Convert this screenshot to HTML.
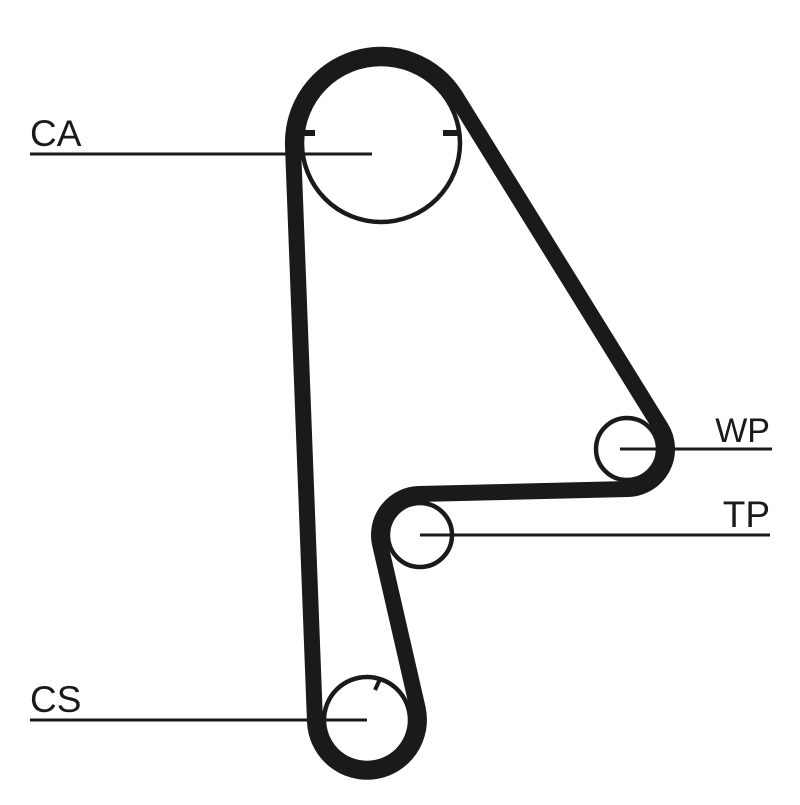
<!DOCTYPE html>
<html><head><style>html,body{margin:0;padding:0;background:#fff}</style></head>
<body>
<svg width="800" height="800" viewBox="0 0 800 800" xmlns="http://www.w3.org/2000/svg">
<g fill="none" stroke="#1a1a1a">
<path d="M 293,146.3 A 88 88 0 0 1 455.6,96.2 L 660.9,427.7 A 40 40 0 0 1 628,489 L 419,494 A 41 41 0 0 0 380,544 L 417.7,708.4 A 52 52 0 1 1 315,722 Z" stroke-width="16" stroke-linejoin="round"/>
<circle cx="381" cy="143" r="79" stroke-width="4.5"/>
<circle cx="627" cy="449" r="31" stroke-width="4.5"/>
<circle cx="420" cy="535" r="32" stroke-width="4.5"/>
<circle cx="367" cy="720" r="43" stroke-width="4.5"/>
<line x1="300" y1="133" x2="315" y2="133" stroke-width="6"/>
<line x1="443" y1="133" x2="460" y2="133" stroke-width="6"/>
<line x1="375" y1="690" x2="380" y2="679" stroke-width="4"/>
<line x1="30" y1="154" x2="372" y2="154" stroke-width="3"/>
<line x1="620" y1="449" x2="772" y2="449" stroke-width="3"/>
<line x1="420" y1="535" x2="770" y2="535" stroke-width="3"/>
<line x1="30" y1="720" x2="367" y2="720" stroke-width="3"/>
</g>
<g font-family="Liberation Sans, sans-serif" font-size="37" fill="#1a1a1a">
<text x="30" y="146">CA</text>
<text x="770" y="442" text-anchor="end" font-size="34">WP</text>
<text x="770" y="527" text-anchor="end">TP</text>
<text x="30" y="712">CS</text>
</g>
</svg>
</body></html>
